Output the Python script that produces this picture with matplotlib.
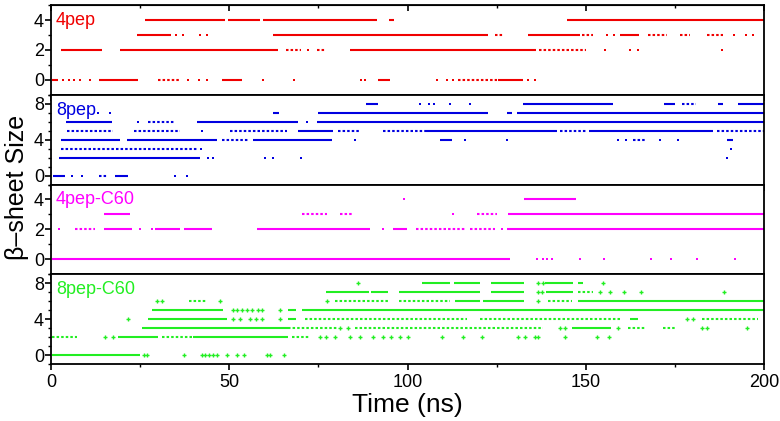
import matplotlib
matplotlib.use("Agg")
import matplotlib.pyplot as plt
from matplotlib.ticker import MultipleLocator

plt.rcParams['font.family'] = ['Liberation Sans', 'DejaVu Sans']

# each run is (size, start ns, end ns); dots are (size, time ns)
# ---- 4pep ----
pep4_runs = [(4, 26.4, 48.8), (4, 49.6, 58.6), (4, 59.5, 91.4), (4, 94.8, 96.2), (4, 144.7, 200),
             (3, 24.1, 33.7), (3, 62.3, 122.6), (3, 133.8, 148.4), (3, 159.5, 165),
             (2, 2.8, 14.3), (2, 19.4, 63.7), (2, 83.9, 136),
             (0, 0.3, 2.0), (0, 13.5, 24.4), (0, 48, 53.6), (0, 91.7, 95), (0, 125.4, 132.4)]
pep4_dotted = [(3, 124.5, 126.8), (3, 149, 152), (3, 167.5, 172.8), (3, 176.4, 179.2), (3, 184, 188.5),
               (2, 66, 70), (2, 74.5, 77), (2, 137, 150),
               (0, 30, 36), (0, 114.2, 125.1)]
pep4_dots = [(3, 35), (3, 37), (3, 41.8), (3, 43.8), (3, 156), (3, 158), (3, 191.5), (3, 195), (3, 197),
             (2, 72), (2, 155.4), (2, 162.4), (2, 164.7), (2, 188.2),
             (0, 3.5), (0, 5), (0, 6.5), (0, 8), (0, 11), (0, 38.5), (0, 41.5), (0, 43.8),
             (0, 59.5), (0, 68.2), (0, 87), (0, 88), (0, 108.3), (0, 111), (0, 112.8),
             (0, 133.8), (0, 135.8)]

# ---- 8pep ----
pep8_runs = [(8, 88.4, 91.7), (8, 132.4, 157.6), (8, 172, 175), (8, 187, 188.5), (8, 192.7, 200),
             (7, 62.3, 64), (7, 74.9, 122.6), (7, 127.8, 129.3), (7, 130.7, 200),
             (6, 4.2, 17.1), (6, 41, 69.3), (6, 74.6, 200),
             (5, 69.3, 79.1), (5, 104.9, 141.9), (5, 151, 185.7),
             (4, 2.8, 19.4), (4, 21.3, 46.6), (4, 56.7, 78.8), (4, 109, 112.5), (4, 189.6, 191.3),
             (2, 2.2, 41.8),
             (0, 0.6, 3.9), (0, 18, 21.6)]
pep8_dotted = [(8, 177, 181),
               (6, 27.2, 34.8),
               (5, 4.5, 17.4), (5, 23.3, 36.2), (5, 50.2, 66.2), (5, 80.5, 86.7), (5, 93.1, 104.9),
               (5, 142.8, 150.3), (5, 186.8, 200),
               (4, 48, 55.3), (4, 163.3, 167),
               (3, 2.8, 41),
               (0, 13.5, 16)]
pep8_dots = [(8, 103.5), (8, 106), (8, 107.5), (8, 112), (8, 117.5),
             (7, 13.2), (7, 16.5),
             (6, 24.4), (6, 71.8),
             (5, 42.4),
             (4, 85.3), (4, 116), (4, 127.9), (4, 159), (4, 161.2), (4, 170.8), (4, 176),
             (3, 42), (3, 190.7),
             (2, 44), (2, 45.4), (2, 60), (2, 62.3), (2, 70.1), (2, 189.6),
             (0, 5.9), (0, 8.7), (0, 34.8), (0, 38.1)]

# ---- 4pep-C60 ----
pep4c_runs = [(4, 132.7, 147.3),
              (3, 14.9, 22.2), (3, 128.2, 200),
              (2, 14.9, 22.7), (2, 29.2, 36.2), (2, 37.3, 45.2), (2, 57.8, 89.5), (2, 95.9, 99.9),
              (2, 127.9, 200),
              (0, 0.3, 128.7)]
pep4c_dotted = [(3, 70.4, 77.4), (3, 81, 84.4), (3, 119.5, 125.1),
                (2, 6.7, 12.3), (2, 102.4, 116.1), (2, 117.5, 124.5)]
pep4c_dots = [(4, 99), (3, 112.8),
              (2, 2.2), (2, 25), (2, 28.3), (2, 93.1), (2, 126.5),
              (0, 136.3), (0, 138), (0, 139.2), (0, 140.5), (0, 148.4), (0, 155.1),
              (0, 168.3), (0, 173.9), (0, 181.2), (0, 191.9)]

# ---- 8pep-C60 ----
pep8c_runs = [(8, 104, 112), (8, 113, 120.3), (8, 123.4, 132.7), (8, 138.6, 146.4), (8, 147.8, 149.2),
              (7, 77.1, 89.3), (7, 89.8, 94.5), (7, 97.6, 120.3), (7, 123.4, 132.7), (7, 138.8, 146.4),
              (6, 113.3, 120.3), (6, 121.2, 132.7), (6, 147.8, 200),
              (5, 28.3, 48.2), (5, 66.5, 68.7), (5, 70.4, 200),
              (4, 27.2, 49.4), (4, 66.5, 68.7), (4, 162.4, 164.7),
              (3, 25.5, 66.5), (3, 146.1, 157.1),
              (2, 18.8, 30), (2, 39.8, 66.5),
              (0, 0.3, 25)]
pep8c_dotted = [(7, 147.8, 152),
                (6, 38.7, 43.8), (6, 79.7, 94.5), (6, 97.6, 112), (6, 139.4, 146.1),
                (4, 71.2, 116.7), (4, 120.3, 159.6), (4, 182.6, 198.3),
                (3, 66.5, 80.2), (3, 85.3, 138), (3, 161.9, 166.6), (3, 171.7, 175),
                (2, 0.3, 7.3), (2, 31.1, 39.8), (2, 67.6, 72.6)]
pep8c_dots = [(8, 86), (8, 136.6), (8, 138), (8, 154.8),
              (7, 136.6), (7, 137.7), (7, 154), (7, 156.8), (7, 160.7), (7, 165.5), (7, 188.8),
              (6, 29.7), (6, 31.1), (6, 47.4), (6, 77.4), (6, 136.6),
              (5, 51), (5, 52.2), (5, 53.6), (5, 55), (5, 56.5), (5, 58), (5, 59.2), (5, 64.2),
              (4, 21.6), (4, 51), (4, 53), (4, 55.8), (4, 57.5), (4, 59.2), (4, 64.2), (4, 178.4), (4, 180),
              (3, 81), (3, 83.3), (3, 142.8), (3, 144.2), (3, 159), (3, 182.6), (3, 184), (3, 195.2),
              (2, 15.1), (2, 17.4), (2, 75.5), (2, 77), (2, 79.7), (2, 83.9), (2, 86.7), (2, 90.3),
              (2, 93), (2, 95.5), (2, 98), (2, 100.1), (2, 109.7), (2, 115.6), (2, 120.9), (2, 131),
              (2, 133), (2, 135.8), (2, 136.6), (2, 144.2), (2, 153.2), (2, 156.5),
              (0, 26), (0, 27), (0, 37.3), (0, 42.4), (0, 43.2), (0, 44.3), (0, 45.4), (0, 46.6),
              (0, 49.4), (0, 52.2), (0, 54.1), (0, 60.6), (0, 61.4), (0, 65.4)]

names = ['4pep', '8pep', '4pep-C60', '8pep-C60']
colors = ['#f00000', '#0000e0', '#ff00ff', '#22ee22']
all_runs = [pep4_runs, pep8_runs, pep4c_runs, pep8c_runs]
all_dotted = [pep4_dotted, pep8_dotted, pep4c_dotted, pep8c_dotted]
all_dots = [pep4_dots, pep8_dots, pep4c_dots, pep8c_dots]
ylims = [(-1, 5), (-1, 9), (-1, 5), (-1, 9)]
ymajor = [2, 4, 2, 4]
markers = ['s', 's', 's', '+']

fig, axes = plt.subplots(4, 1, figsize=(7.8, 4.21), dpi=100, sharex=True)
fig.subplots_adjust(left=0.0654, right=0.9795, top=0.988, bottom=0.1354, hspace=0)

for i, ax in enumerate(axes):
    c = colors[i]
    runs = all_runs[i]
    ax.hlines([r[0] for r in runs], [r[1] for r in runs], [r[2] for r in runs],
              colors=c, lw=1.5)
    dotted = all_dotted[i]
    ax.hlines([r[0] for r in dotted], [r[1] for r in dotted], [r[2] for r in dotted],
              colors=c, lw=1.5, linestyles=(0, (1.2, 1.0)))
    dots = all_dots[i]
    ax.plot([d[1] for d in dots], [d[0] for d in dots], markers[i], color=c,
            ms=1.6 if markers[i] == 's' else 3.0, mew=1.0 if markers[i] == '+' else 0)
    ax.text(0.007, 0.83, names[i], transform=ax.transAxes, color=c, fontsize=13,
            ha='left', va='center')
    ax.set_ylim(*ylims[i])
    ax.set_yticks(range(0, ylims[i][1], ymajor[i]))
    ax.yaxis.set_minor_locator(MultipleLocator(1))
    ax.set_xlim(0, 200)
    ax.xaxis.set_major_locator(MultipleLocator(50))
    ax.xaxis.set_minor_locator(MultipleLocator(25))
    ax.tick_params(axis='both', which='major', direction='out', length=4, width=1.2, labelsize=13)
    ax.tick_params(axis='both', which='minor', direction='out', length=2.5, width=1)
    ax.tick_params(axis='y', pad=1)
    for s in ax.spines.values():
        s.set_linewidth(1.3)

top = axes[0].secondary_xaxis('top')
top.xaxis.set_major_locator(MultipleLocator(50))
top.xaxis.set_minor_locator(MultipleLocator(25))
top.tick_params(which='major', direction='in', length=4, width=1.2, labeltop=False)
top.tick_params(which='minor', direction='in', length=2.5, width=1)

axes[-1].set_xlabel('Time (ns)', fontsize=19, labelpad=1)
fig.text(0.022, 0.555, 'β\u2013sheet Size', rotation=90, fontsize=18, ha='center', va='center')

plt.savefig('out.png', dpi=100)
